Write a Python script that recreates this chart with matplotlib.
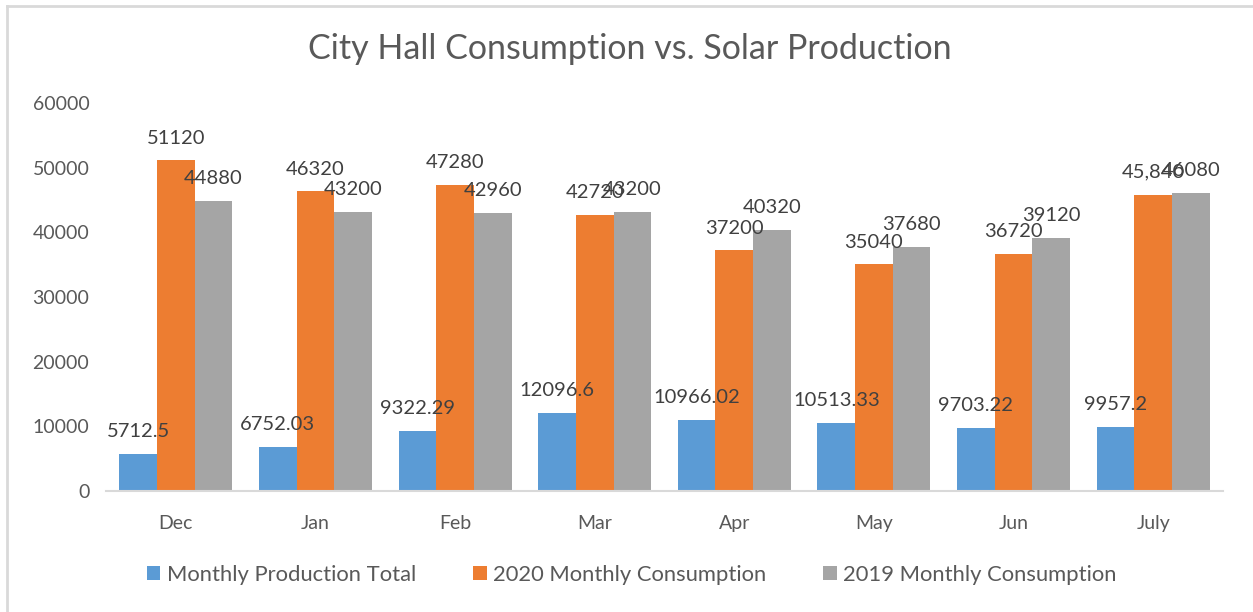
import matplotlib
matplotlib.use("Agg")
import matplotlib.pyplot as plt
import numpy as np

plt.rcParams['font.family'] = ['Lato', 'DejaVu Sans']

months = ["Dec", "Jan", "Feb", "Mar", "Apr", "May", "Jun", "July"]
production = [5712.5, 6752.03, 9322.29, 12096.6, 10966.02, 10513.33, 9703.22, 9957.2]
consumption_2020 = [51120, 46320, 47280, 42720, 37200, 35040, 36720, 45840]
consumption_2019 = [44880, 43200, 42960, 43200, 40320, 37680, 39120, 46080]
labels_production = ["5712.5", "6752.03", "9322.29", "12096.6", "10966.02", "10513.33", "9703.22", "9957.2"]
labels_2020 = ["51120", "46320", "47280", "42720", "37200", "35040", "36720", "45,840"]
labels_2019 = ["44880", "43200", "42960", "43200", "40320", "37680", "39120", "46080"]
series_names = ["Monthly Production Total", "2020 Monthly Consumption", "2019 Monthly Consumption"]
colors = ["#5B9BD5", "#ED7D31", "#A5A5A5"]
text_color = "#595959"

fig = plt.figure(figsize=(12.53, 6.12), dpi=100)
ax = fig.add_axes([106/1253, 1-491/612, (1223-106)/1253, (491-103)/612])

x = np.arange(len(months))
w = 0.27
series = [production, consumption_2020, consumption_2019]
labels = [labels_production, labels_2020, labels_2019]
for i, (vals, labs) in enumerate(zip(series, labels)):
    bars = ax.bar(x + (i - 1) * w, vals, width=w, color=colors[i], label=series_names[i])
    for b, lab in zip(bars, labs):
        ax.annotate(lab, (b.get_x() + b.get_width() / 2, b.get_height()),
                    xytext=(0, 10), textcoords="offset points",
                    ha="center", va="bottom", fontsize=14.5, color="#404040")

ax.set_xlim(-0.5, len(months) - 0.5)
ax.set_ylim(0, 60000)
ax.set_yticks(range(0, 60001, 10000))
ax.set_xticks(x)
ax.set_xticklabels(months)
ax.tick_params(axis="both", length=0, labelsize=14, colors=text_color)
ax.tick_params(axis="x", pad=17)
ax.tick_params(axis="y", pad=12)
for s in ["top", "right", "left"]:
    ax.spines[s].set_visible(False)
ax.spines["bottom"].set_color("#D9D9D9")
ax.spines["bottom"].set_linewidth(1.5)

fig.text(630/1253, 1-49/612, "City Hall Consumption vs. Solar Production",
         ha="center", va="center", fontsize=24.5, color=text_color)

fig.legend(loc="center", bbox_to_anchor=(632/1253, 1-575/612), ncol=3, frameon=False,
           fontsize=15.8, handlelength=0.6, handleheight=0.6, handletextpad=0.3,
           columnspacing=2.6, labelcolor=text_color)

# chart border (left and top visible)
fig.add_artist(plt.Line2D([7/1253, 7/1253], [0, 1-6/612], transform=fig.transFigure, color="#D9D9D9", lw=2))
fig.add_artist(plt.Line2D([7/1253, 1], [1-6/612, 1-6/612], transform=fig.transFigure, color="#D9D9D9", lw=2))

fig.savefig("out.png", dpi=100, facecolor="white")
